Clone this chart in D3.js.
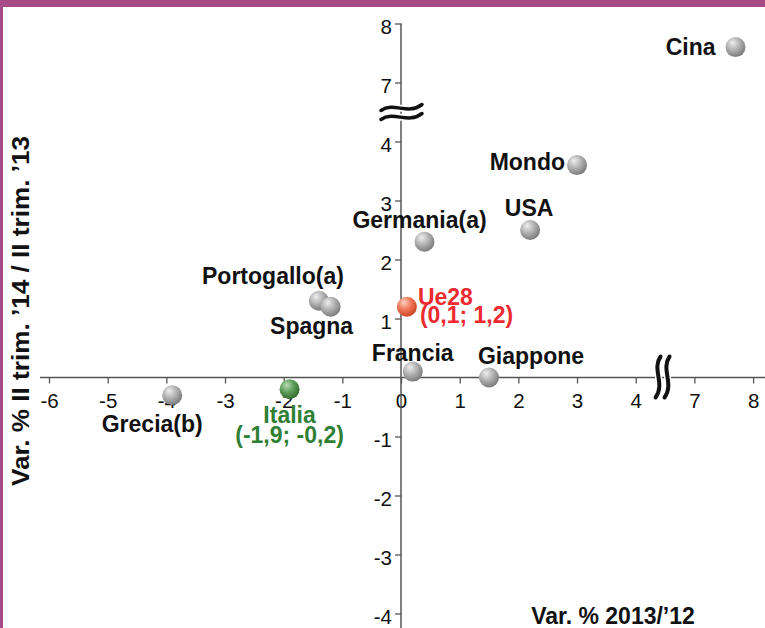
<!DOCTYPE html>
<html>
<head>
<meta charset="utf-8">
<script src="https://cdn.jsdelivr.net/npm/d3@7"></script>
<style>
  html, body { margin: 0; padding: 0; background: #fff; }
  svg { display: block; }
  text { font-family: "Liberation Sans", Arial, Helvetica, sans-serif; }
</style>
</head>
<body>
<svg id="chart" width="765" height="628"></svg>
<script>
// ---- Data ----
const countries = ["Cina", "Mondo", "USA", "Germania(a)", "Portogallo(a)", "Spagna", "Ue28", "Francia", "Giappone", "Grecia(b)", "Italia"];
const xValues   = [7.7, 3.0, 2.2, 0.4, -1.4, -1.2, 0.1, 0.2, 1.5, -3.9, -1.9];   // Var. % 2013/'12
const yValues   = [7.6, 3.6, 2.5, 2.3, 1.3, 1.2, 1.2, 0.1, 0.0, -0.3, -0.2];     // Var. % II trim. '14 / II trim. '13
const highlight = ["gray", "gray", "gray", "gray", "gray", "gray", "red", "gray", "gray", "gray", "green"];
const subLabels = {"Ue28": "(0,1; 1,2)", "Italia": "(-1,9; -0,2)"};
const xTickValues = [-6, -5, -4, -3, -2, -1, 0, 1, 2, 3, 4, 7, 8];
const yTickValues = [-4, -3, -2, -1, 1, 2, 3, 4, 7, 8];
const xTitle = "Var. % 2013/\u201912";
const yTitle = "Var. % II trim. \u201914 / II trim. \u201913";

// ---- Label layout (pixel offsets from point) ----
const labelLayout = {
  "Cina":          {anchor: "end",    dx: -20, dy: 8},
  "Mondo":         {anchor: "end",    dx: -12, dy: 5},
  "USA":           {anchor: "middle", dx: -1,  dy: -14},
  "Germania(a)":   {anchor: "middle", dx: -5,  dy: -14},
  "Portogallo(a)": {anchor: "end",    dx: 25,  dy: -17},
  "Spagna":        {anchor: "middle", dx: -19, dy: 27},
  "Ue28":          {anchor: "start",  dx: 11,  dy: -2, dx2: 13, dy2: 16},
  "Francia":       {anchor: "middle", dx: 0,   dy: -11},
  "Giappone":      {anchor: "middle", dx: 42,  dy: -14},
  "Grecia(b)":     {anchor: "middle", dx: -20, dy: 37},
  "Italia":        {anchor: "middle", dx: 0,   dy: 34, dx2: 0, dy2: 54}
};
const textColors = {gray: "#111", red: "#ec2a2f", green: "#2f7f35"};

const svg = d3.select("#chart");

// ---- Scales (broken axes: 4 .. 7 compressed) ----
const x = d3.scaleLinear().domain([-6, 4, 7, 8]).range([49, 635.7, 694.4, 753.1]);
const y = d3.scaleLinear().domain([-4, 4, 7, 8]).range([613.5, 141.5, 82.5, 23.5]);

// ---- Frame ----
svg.append("rect").attr("x", 0).attr("y", 0).attr("width", 765).attr("height", 7).attr("fill", "#a64b88");
svg.append("rect").attr("x", 0).attr("y", 0).attr("width", 3).attr("height", 628).attr("fill", "#a64b88");

// ---- Gradients ----
const defs = svg.append("defs");
const grads = {
  gray:  ["#eeeeee", "#b0b0b0", "#747474"],
  red:   ["#fcd2c2", "#ee7556", "#c8401f"],
  green: ["#b9dcb5", "#5d9c58", "#2c6429"]
};
Object.entries(grads).forEach(([k, c]) => {
  const g = defs.append("radialGradient").attr("id", "g-" + k)
    .attr("cx", "40%").attr("cy", "35%").attr("r", "70%").attr("fx", "35%").attr("fy", "28%");
  g.append("stop").attr("offset", "0%").attr("stop-color", c[0]);
  g.append("stop").attr("offset", "50%").attr("stop-color", c[1]);
  g.append("stop").attr("offset", "100%").attr("stop-color", c[2]);
});

const axisColor = "#555";

// ---- Axes ----
const xAxis = d3.axisBottom(x).tickValues(xTickValues).tickSize(6).tickPadding(10).tickFormat(d3.format("d"));
const yAxis = d3.axisLeft(y).tickValues(yTickValues).tickSize(6).tickPadding(3).tickFormat(d3.format("d"));

const gx = svg.append("g").attr("transform", `translate(0,${y(0)})`).call(xAxis);
const gy = svg.append("g").attr("transform", `translate(${x(0)},0)`).call(yAxis);
[gx, gy].forEach(g => {
  g.select(".domain").remove();
  g.selectAll(".tick line").attr("stroke", axisColor).attr("stroke-width", 1.3);
  g.selectAll(".tick text").attr("fill", "#111").style("font-size", "20.5px");
});
gx.selectAll(".tick text").text(d => d < 0 ? "-" + Math.abs(d) : d);
gy.selectAll(".tick text").attr("dy", "0.5em").text(d => d < 0 ? "-" + Math.abs(d) : d);

svg.append("line").attr("x1", 40).attr("x2", 765).attr("y1", y(0)).attr("y2", y(0))
  .attr("stroke", axisColor).attr("stroke-width", 1.5);
svg.append("line").attr("x1", x(0)).attr("x2", x(0)).attr("y1", y(8)).attr("y2", 628)
  .attr("stroke", axisColor).attr("stroke-width", 1.5);

// ---- Axis break marks ----
const yb = (y(4) + y(7)) / 2, xb0 = x(0) - 20;
const yBreak = off => `M${xb0},${yb + off + 3} C${xb0 + 13},${yb + off - 6} ${xb0 + 27},${yb + off + 8} ${xb0 + 41},${yb + off - 3}`;
const xb = (x(4) + x(7)) / 2 - 3, yb0 = y(0) - 21;
const xBreak = off => `M${xb + off + 3},${yb0} C${xb + off - 6},${yb0 + 13} ${xb + off + 8},${yb0 + 27} ${xb + off - 2},${yb0 + 41}`;
[-4.5, 4.5].forEach(off => {
  svg.append("path").attr("d", yBreak(off)).attr("fill", "none").attr("stroke", "#fff").attr("stroke-width", 7);
  svg.append("path").attr("d", xBreak(off)).attr("fill", "none").attr("stroke", "#fff").attr("stroke-width", 7);
});
[-4.5, 4.5].forEach(off => {
  svg.append("path").attr("d", yBreak(off)).attr("fill", "none").attr("stroke", "#111").attr("stroke-width", 3.5).attr("stroke-linecap", "round");
  svg.append("path").attr("d", xBreak(off)).attr("fill", "none").attr("stroke", "#111").attr("stroke-width", 4).attr("stroke-linecap", "round");
});

// ---- Points ----
const data = countries.map((c, i) => ({name: c, x: xValues[i], y: yValues[i], kind: highlight[i]}));

svg.append("g").selectAll("circle").data(data).join("circle")
  .attr("cx", d => x(d.x)).attr("cy", d => y(d.y)).attr("r", 10)
  .attr("fill", d => `url(#g-${d.kind})`);

// ---- Labels ----
const lg = svg.append("g").style("font-weight", "bold").style("font-size", "23px");
data.forEach(d => {
  const L = labelLayout[d.name];
  lg.append("text").attr("x", x(d.x) + L.dx).attr("y", y(d.y) + L.dy)
    .attr("text-anchor", L.anchor).attr("fill", textColors[d.kind]).text(d.name);
  if (subLabels[d.name]) {
    lg.append("text").attr("x", x(d.x) + L.dx2).attr("y", y(d.y) + L.dy2)
      .attr("text-anchor", L.anchor).attr("fill", textColors[d.kind]).text(subLabels[d.name]);
  }
});

// ---- Axis titles ----
svg.append("text").attr("x", 613).attr("y", 624).attr("text-anchor", "middle")
  .style("font-weight", "bold").style("font-size", "23px").attr("fill", "#111").text(xTitle);
svg.append("text").attr("transform", "translate(29,311) rotate(-90)").attr("text-anchor", "middle")
  .attr("textLength", 350).attr("lengthAdjust", "spacingAndGlyphs")
  .style("font-weight", "bold").style("font-size", "23px").attr("fill", "#111").text(yTitle);
</script>
</body>
</html>
